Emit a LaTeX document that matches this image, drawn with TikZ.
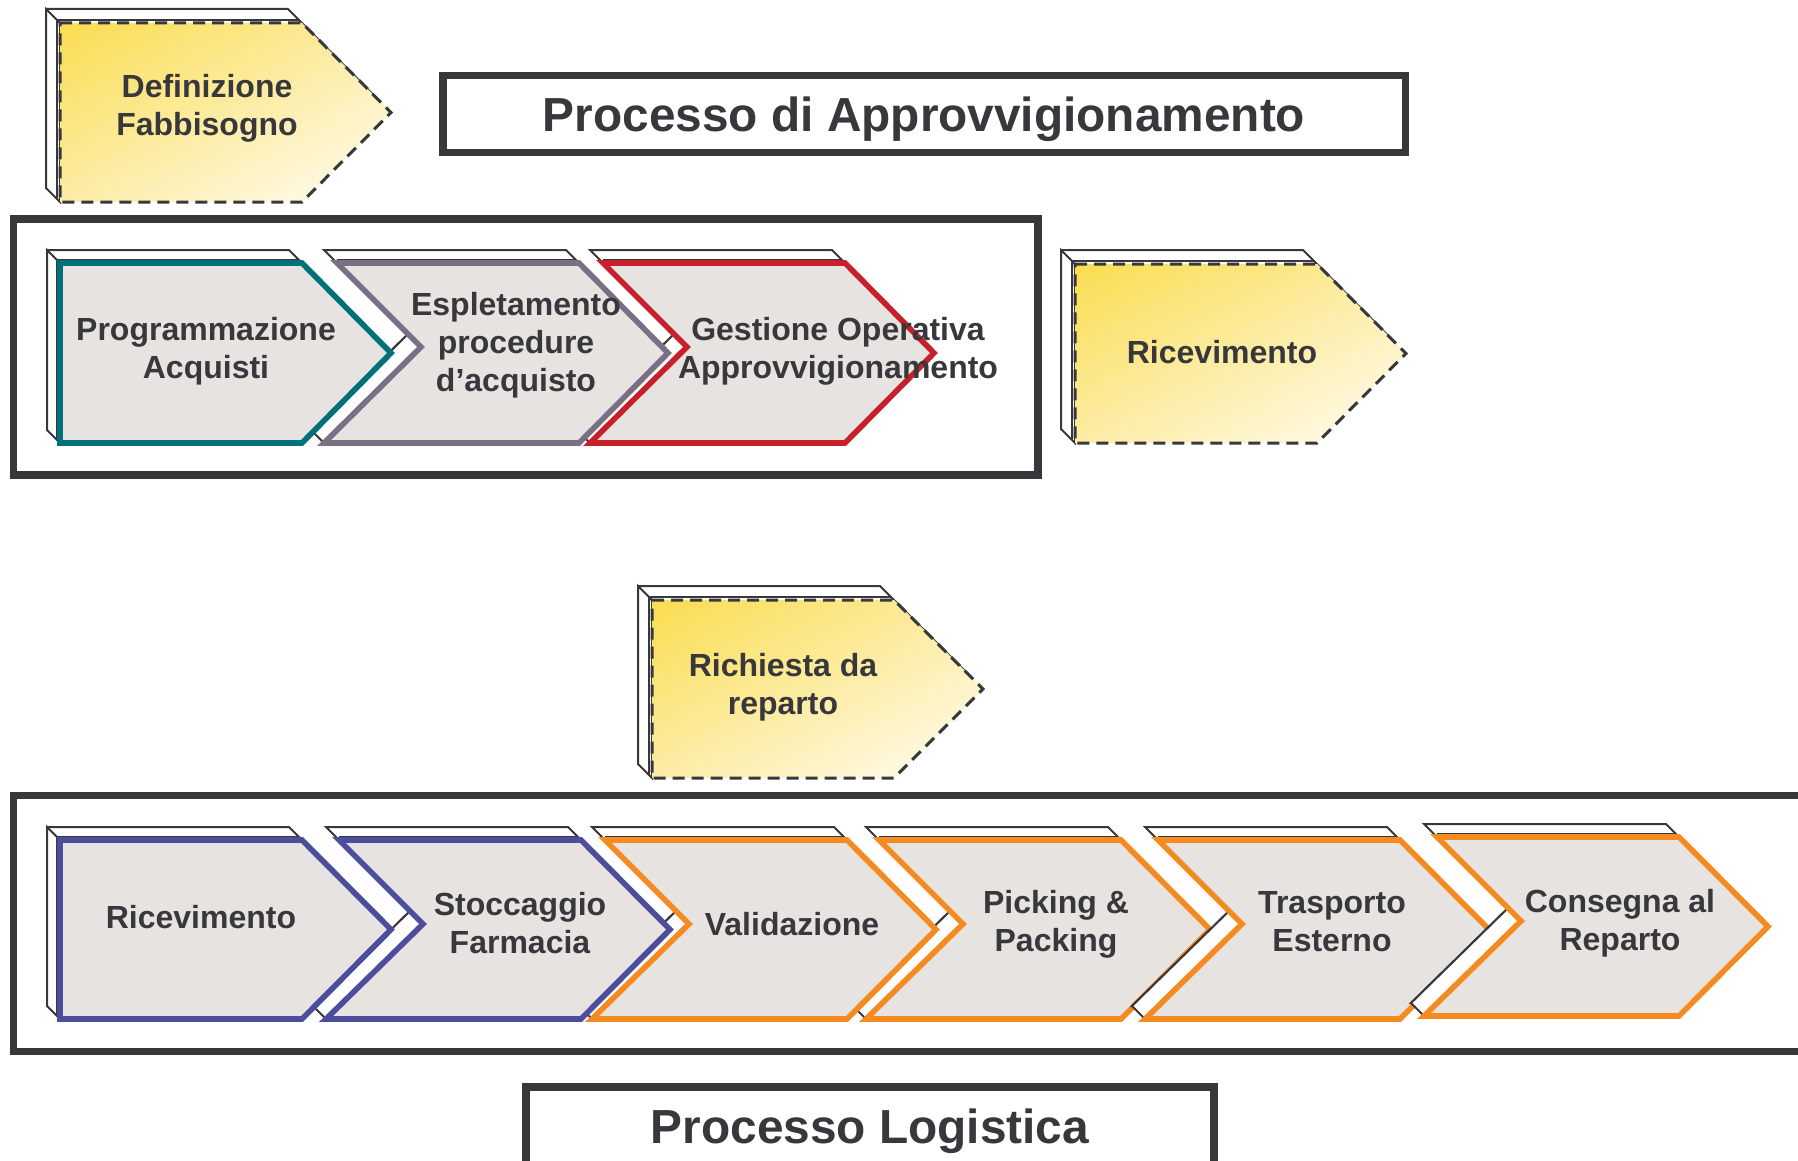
\documentclass[tikz,border=0pt]{standalone}
\usepackage{fontspec}
\setmainfont{Liberation Sans}
\usetikzlibrary{shadings}
\definecolor{dark}{RGB}{56,55,60}
\definecolor{cfill}{RGB}{230,227,224}
\definecolor{cteal}{RGB}{0,112,122}
\definecolor{cpurp}{RGB}{123,111,133}
\definecolor{cred}{RGB}{200,32,43}
\definecolor{cblue}{RGB}{77,77,158}
\definecolor{corange}{RGB}{245,138,32}
\definecolor{cyelA}{RGB}{250,221,80}
\definecolor{cyelB}{RGB}{252,236,165}
\definecolor{cyelC}{RGB}{255,253,245}
\newcommand\lstrut{\rule{0pt}{12pt}}
% pentagon extrusion: P T B depth
\newcommand\pentext[4]{%
 \path[ext] ({#1-#4},{#2-#4}) -- ({#1+242-#4},{#2-#4}) -- ({#1+331-#4},{(#2+#3)/2-#4}) -- ({#1+242-#4},{#3-#4}) -- ({#1-#4},{#3-#4}) -- cycle;
 \path[ext] (#1,#2) -- ({#1-#4},{#2-#4}) -- ({#1-#4},{#3-#4}) -- (#1,#3) -- cycle;
 \path[extline] ({#1-3},{#3-3}) -- ({#1-3},{#2-3}) -- ({#1+239},{#2-3});
}
% notched chevron extrusion: P T B
\newcommand\chevext[3]{%
 \path[ext] ({#1-13},{#2-13}) -- ({#1+229},{#2-13}) -- ({#1+318},{(#2+#3)/2-13}) -- ({#1+229},{#3-13}) -- ({#1-26},{#3-13}) -- ({#1+71},{#2+71}) -- cycle;
 \path[ext] ({#1+84},{#2+84}) -- ({#1+71},{#2+71}) -- ({#1-26},{#3-13}) -- ({#1-13},#3) -- cycle;
 \path[extline] (#1,{#2-3}) -- ({#1+239},{#2-3});
}
\newcommand\pentfront[4]{\path[#4] (#1,#2) -- ({#1+242},#2) -- ({#1+331},{(#2+#3)/2}) -- ({#1+242},#3) -- (#1,#3) -- cycle;}
\newcommand\chevfront[4]{\path[#4] (#1,#2) -- ({#1+242},#2) -- ({#1+331},{(#2+#3)/2}) -- ({#1+242},#3) -- ({#1-13},#3) -- ({#1+84},{#2+84}) -- cycle;}
\tikzset{
 ext/.style={draw=dark, fill=white, line width=1pt, line join=miter},
 extline/.style={draw=dark, line width=1pt},
 front/.style={fill=cfill, line width=2.8pt, line join=miter},
 ydash/.style={shade, draw=dark, line width=1.5pt, dash pattern=on 6pt off 3.5pt,
   upper left=cyelA, upper right=cyelB, lower left=cyelB, lower right=cyelC},
 frame/.style={draw=dark, line width=3.75pt},
 lblm/.style={inner sep=0pt, align=center, anchor=north, text=dark, font=\fontsize{16}{19}\selectfont\bfseries},
 lbls/.style={inner sep=0pt, anchor=base, text=dark, font=\fontsize{16}{19}\selectfont\bfseries},
 ttl/.style={inner sep=0pt, anchor=base, text=dark, font=\fontsize{23.9}{28}\selectfont\bfseries},
}
\begin{document}
\begin{tikzpicture}[x=0.5pt,y=-0.5pt]
\useasboundingbox[fill=white] (0,0) rectangle (1798,1161);

% frames and title boxes
\draw[frame] (443,75.5) rectangle (1405.5,152.5);
\draw[frame] (13.5,219) rectangle (1038,475);
\draw[frame] (1830,795.5) -- (13.5,795.5) -- (13.5,1051.5) -- (1830,1051.5);
\draw[frame] (526,1180) -- (526,1087) -- (1214,1087) -- (1214,1180);

% yellow pentagons
\pentext{60}{23}{202}{14}
\pentfront{60}{23}{202}{ydash}
\pentext{1075}{264}{443}{14}
\pentfront{1075}{264}{443}{ydash}
\pentext{652}{600}{778}{14}
\pentfront{652}{600}{778}{ydash}

% row 1
\pentext{60}{263}{443}{13}
\chevext{337}{263}{443}
\chevext{603}{263}{443}
\pentfront{60}{263}{443}{front,draw=cteal}
\chevfront{337}{263}{443}{front,draw=cpurp}
\chevfront{603}{263}{443}{front,draw=cred}

% row 2
\pentext{60}{840}{1019}{13}
\chevext{339}{840}{1019}
\chevext{605}{840}{1019}
\chevext{879}{840}{1019}
\pentfront{60}{840}{1019}{front,draw=cblue}
\chevfront{339}{840}{1019}{front,draw=cblue}
\chevfront{605}{840}{1019}{front,draw=corange}
\chevfront{879}{840}{1019}{front,draw=corange}
\chevext{1158}{840}{1019}
\chevfront{1158}{840}{1019}{front,draw=corange}
\chevext{1437}{837}{1016}
\chevfront{1437}{837}{1016}{front,draw=corange}

% titles
\node[ttl] (tA) at (924,132) {Processo di Approvvigionamento};
\node[ttl] (tL) at (870,1143) {Processo Logistica};

% labels
\node[lblm] (lDef) at (207,73) {\lstrut Definizione\\Fabbisogno};
\node[lblm] (lProg) at (206,316) {\lstrut Programmazione\\Acquisti};
\node[lblm] (lEsp) at (516,291) {\lstrut Espletamento\\procedure\\d’acquisto};
\node[lblm] (lGest) at (838,316) {\lstrut Gestione Operativa\\Approvvigionamento};
\node[lbls] (lRic1) at (1222,363) {Ricevimento};
\node[lblm] (lRich) at (783,652) {\lstrut Richiesta da\\reparto};
\node[lbls] (lRic2) at (201,928) {Ricevimento};
\node[lblm] (lStoc) at (520,891) {\lstrut Stoccaggio\\Farmacia};
\node[lbls] (lVal) at (792,935) {Validazione};
\node[lblm] (lPick) at (1056,889) {\lstrut Picking \&\\Packing};
\node[lblm] (lTras) at (1332,889) {\lstrut Trasporto\\Esterno};
\node[lblm] (lCons) at (1620,888) {\lstrut Consegna al\\Reparto};
\end{tikzpicture}
\end{document}
